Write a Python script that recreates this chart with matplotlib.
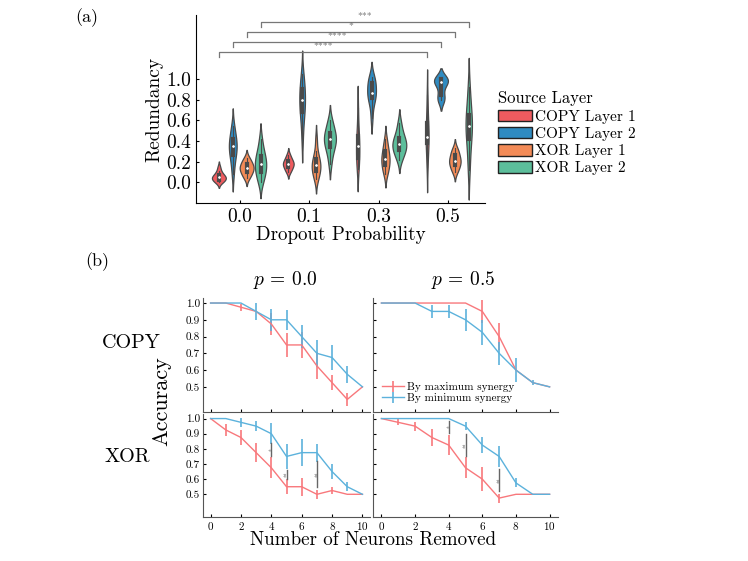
import numpy as np
import pandas as pd
import seaborn as sns
import matplotlib.pyplot as plt
from matplotlib.patches import Patch

plt.rcParams['font.family'] = 'cmr10'
plt.rcParams['mathtext.fontset'] = 'cm'
plt.rcParams['axes.unicode_minus'] = False
plt.rcParams['axes.formatter.use_mathtext'] = True

# ---- panel (a): redundancy per dropout probability ----
dropout = ['0.0', '0.1', '0.3', '0.5']
layers = ['COPY Layer 1', 'COPY Layer 2', 'XOR Layer 1', 'XOR Layer 2']
layer_colors = ['#EF5B5F', '#2F8BC1', '#F38B57', '#5CBE9B']

red_copy1 = {
    '0.0': [0.0, 0.01, 0.02, 0.03, 0.04, 0.05, 0.05, 0.06, 0.07, 0.09, 0.11, 0.15],
    '0.1': [0.1, 0.12, 0.14, 0.16, 0.17, 0.18, 0.19, 0.2, 0.22, 0.24, 0.27],
    '0.3': [0.13, 0.18, 0.21, 0.26, 0.3, 0.35, 0.38, 0.42, 0.47, 0.55, 0.72],
    '0.5': [0.15, 0.25, 0.36, 0.4, 0.42, 0.44, 0.48, 0.55, 0.6, 0.7, 0.85],
}
red_copy2 = {
    '0.0': [0.08, 0.18, 0.25, 0.28, 0.32, 0.35, 0.36, 0.4, 0.44, 0.48, 0.55],
    '0.1': [0.42, 0.58, 0.66, 0.7, 0.75, 0.8, 0.82, 0.88, 0.93, 0.97, 1.05],
    '0.3': [0.62, 0.75, 0.8, 0.83, 0.86, 0.87, 0.9, 0.95, 0.98, 1.0, 1.02],
    '0.5': [0.8, 0.8, 0.82, 0.88, 0.95, 0.97, 0.98, 1.0, 1.0, 1.0, 1.0],
}
red_xor1 = {
    '0.0': [0.04, 0.07, 0.09, 0.11, 0.13, 0.14, 0.15, 0.17, 0.19, 0.21, 0.24],
    '0.1': [0.03, 0.07, 0.1, 0.12, 0.15, 0.17, 0.19, 0.21, 0.24, 0.3, 0.42],
    '0.3': [0.08, 0.12, 0.15, 0.18, 0.21, 0.23, 0.25, 0.28, 0.32, 0.36, 0.42],
    '0.5': [0.1, 0.13, 0.15, 0.18, 0.2, 0.21, 0.22, 0.25, 0.28, 0.3, 0.33],
}
red_xor2 = {
    '0.0': [0.0, 0.05, 0.09, 0.12, 0.16, 0.18, 0.2, 0.24, 0.28, 0.32, 0.42],
    '0.1': [0.18, 0.28, 0.33, 0.36, 0.4, 0.42, 0.44, 0.46, 0.5, 0.55, 0.6],
    '0.3': [0.22, 0.27, 0.3, 0.33, 0.35, 0.37, 0.39, 0.42, 0.45, 0.5, 0.58],
    '0.5': [0.12, 0.25, 0.4, 0.45, 0.5, 0.55, 0.6, 0.63, 0.68, 0.8, 0.92],
}

rows = []
for name, d in zip(layers, [red_copy1, red_copy2, red_xor1, red_xor2]):
    for p in dropout:
        for v in d[p]:
            rows.append((p, name, v))
df = pd.DataFrame(rows, columns=['dropout', 'layer', 'redundancy'])

# significance brackets: (hue index, label)
sig_a = [(0, '****'), (1, '****'), (2, '*'), (3, '***')]

# ---- panel (b): accuracy vs neurons removed ----
neurons = np.arange(11)
copy0_max = [1.0, 1.0, 0.975, 0.95, 0.875, 0.75, 0.75, 0.625, 0.525, 0.425, 0.5]
copy0_max_err = [0, 0, 0.02, 0.0, 0.065, 0.07, 0.075, 0.08, 0.045, 0.04, 0]
copy0_min = [1.0, 1.0, 1.0, 0.95, 0.9, 0.9, 0.8, 0.7, 0.675, 0.575, 0.5]
copy0_min_err = [0, 0, 0, 0.05, 0.065, 0.06, 0.07, 0.08, 0.075, 0.05, 0]

copy5_max = [1.0, 1.0, 1.0, 1.0, 1.0, 1.0, 0.95, 0.8, 0.6, 0.525, 0.5]
copy5_max_err = [0, 0, 0, 0, 0, 0, 0.07, 0.08, 0.0, 0, 0]
copy5_min = [1.0, 1.0, 1.0, 0.95, 0.95, 0.9, 0.825, 0.7, 0.6, 0.525, 0.5]
copy5_min_err = [0, 0, 0, 0.04, 0.04, 0.065, 0.075, 0.07, 0.07, 0.015, 0]

xor0_max = [1.0, 0.925, 0.875, 0.775, 0.675, 0.55, 0.55, 0.5, 0.525, 0.5, 0.5]
xor0_max_err = [0, 0.04, 0.05, 0.065, 0.07, 0.05, 0.06, 0.03, 0.02, 0, 0]
xor0_min = [1.0, 1.0, 0.975, 0.95, 0.9, 0.75, 0.775, 0.775, 0.65, 0.55, 0.5]
xor0_min_err = [0, 0, 0.03, 0.035, 0.07, 0.08, 0.09, 0.06, 0.05, 0.03, 0]

xor5_max = [1.0, 0.975, 0.95, 0.875, 0.825, 0.675, 0.6, 0.475, 0.5, 0.5, 0.5]
xor5_max_err = [0, 0.02, 0.03, 0.055, 0.065, 0.07, 0.08, 0.03, 0, 0, 0]
xor5_min = [1.0, 1.0, 1.0, 1.0, 1.0, 0.95, 0.825, 0.75, 0.575, 0.5, 0.5]
xor5_min_err = [0, 0, 0, 0, 0, 0.025, 0.05, 0.07, 0.03, 0, 0]

# significance markers in XOR panels: (x, y_low, y_high, label)
sig_xor0 = [(4, 0.75, 0.84, '*'), (5, 0.6, 0.66, '**'), (7, 0.55, 0.72, '**')]
sig_xor5 = [(4, 0.905, 0.985, '*'), (5, 0.75, 0.895, '**'), (7, 0.52, 0.665, '**')]

max_color = '#F8787C'
min_color = '#5CB2DC'

fig = plt.figure(figsize=(7.48, 5.61), dpi=100)

# ----- (a) -----
ax = fig.add_axes([0.262, 0.638, 0.386, 0.335])
sns.violinplot(data=df, x='dropout', y='redundancy', hue='layer', order=dropout,
               hue_order=layers, palette=layer_colors, saturation=1, linewidth=0.9,
               linecolor='#4a4a4a', inner='box',
               inner_kws=dict(box_width=3, whis_width=0.8, marker='.'),
               legend=False, ax=ax)
ax.set_xlim(-0.63, 3.53)
ax.set_ylim(-0.2, 1.62)
ax.set_yticks([0.0, 0.2, 0.4, 0.6, 0.8, 1.0])
ax.set_yticklabels(['0.0', '0.2', '0.4', '0.6', '0.8', '1.0'])
ax.tick_params(labelsize=14, direction='in', length=2)
ax.set_xlabel('Dropout Probability', fontsize=13.7, labelpad=0)
ax.set_ylabel('Redundancy', fontsize=14, labelpad=2)
for s in ['top', 'right']:
    ax.spines[s].set_visible(False)

offsets = [-0.3, -0.1, 0.1, 0.3]
for i, (h, lab) in enumerate(sig_a):
    y = 1.26 + 0.097 * i
    x1, x2 = 0 + offsets[h], 3 + offsets[h]
    ax.plot([x1, x1, x2, x2], [y - 0.045, y, y, y - 0.045], color='#777777', lw=0.9, clip_on=False)
    ax.text((x1 + x2) / 2, y + 0.01, lab, ha='center', va='bottom', fontsize=7, color='#666666', clip_on=False)

handles = [Patch(facecolor=c, edgecolor='#222222', lw=1) for c in layer_colors]
leg = ax.legend(handles, layers, title='Source Layer', loc='upper left',
                bbox_to_anchor=(0.648, 0.862), bbox_transform=fig.transFigure,
                frameon=False, fontsize=11, title_fontsize=12, handlelength=2.2,
                handleheight=0.8, handletextpad=0.2, labelspacing=0.2)
leg._legend_box.align = 'left'

# ----- (b) -----
panels = [
    ([0.2714, 0.2656, 0.2233, 0.2032], copy0_max, copy0_max_err, copy0_min, copy0_min_err, None),
    ([0.4987, 0.2656, 0.2473, 0.2032], copy5_max, copy5_max_err, copy5_min, copy5_min_err, None),
    ([0.2714, 0.0784, 0.2233, 0.1836], xor0_max, xor0_max_err, xor0_min, xor0_min_err, sig_xor0),
    ([0.4987, 0.0784, 0.2473, 0.1836], xor5_max, xor5_max_err, xor5_min, xor5_min_err, sig_xor5),
]
axes_b = []
for k, (rect, mx, mxe, mn, mne, sig) in enumerate(panels):
    bx = fig.add_axes(rect)
    axes_b.append(bx)
    bx.errorbar(neurons, mx, yerr=mxe, color=max_color, lw=1, elinewidth=1.2,
                label='By maximum synergy')
    bx.errorbar(neurons, mn, yerr=mne, color=min_color, lw=1, elinewidth=1.2,
                label='By minimum synergy')
    if sig:
        for x, y0, y1, lab in sig:
            bx.plot([x, x], [y0, y1], color='#666666', lw=1)
            bx.text(x + 0.15, (y0 + y1) / 2, lab, rotation=90, fontsize=4,
                    color='#555555', ha='center', va='center')
    bx.set_xlim(-0.5, 10.5)
    bx.set_ylim(0.35, 1.03)
    bx.set_xticks([0, 2, 4, 6, 8, 10])
    bx.set_yticks([0.5, 0.6, 0.7, 0.8, 0.9, 1.0])
    bx.set_yticklabels(['0.5', '0.6', '0.7', '0.8', '0.9', '1.0'])
    bx.tick_params(direction='in', length=2, labelsize=8, pad=2)
    for s in ['top', 'right']:
        bx.spines[s].set_visible(False)
    for s in ['left', 'bottom']:
        bx.spines[s].set_color('#555555')
    if k % 2 == 1:
        bx.tick_params(labelleft=False)
    if k < 2:
        bx.tick_params(labelbottom=False)

axes_b[1].legend(loc='lower left', bbox_to_anchor=(0.0, 0.0), frameon=False, fontsize=8,
                 handlelength=2, handletextpad=0.3, labelspacing=0.1, borderpad=0.3)

fig.text(0.116, 0.968, '(a)', fontsize=13, ha='center', va='center')
fig.text(0.13, 0.533, '(b)', fontsize=13, ha='center', va='center')
fig.text(0.381, 0.501, r'$p$ = 0.0', fontsize=14, ha='center', va='center')
fig.text(0.619, 0.501, r'$p$ = 0.5', fontsize=14, ha='center', va='center')
fig.text(0.176, 0.389, 'COPY', fontsize=14.5, ha='center', va='center')
fig.text(0.170, 0.185, 'XOR', fontsize=14.5, ha='center', va='center')
fig.text(0.216, 0.285, 'Accuracy', fontsize=16, rotation=90, ha='center', va='center')
fig.text(0.499, 0.037, 'Number of Neurons Removed', fontsize=13.7, ha='center', va='center')

fig.savefig('out.png', dpi=100)
